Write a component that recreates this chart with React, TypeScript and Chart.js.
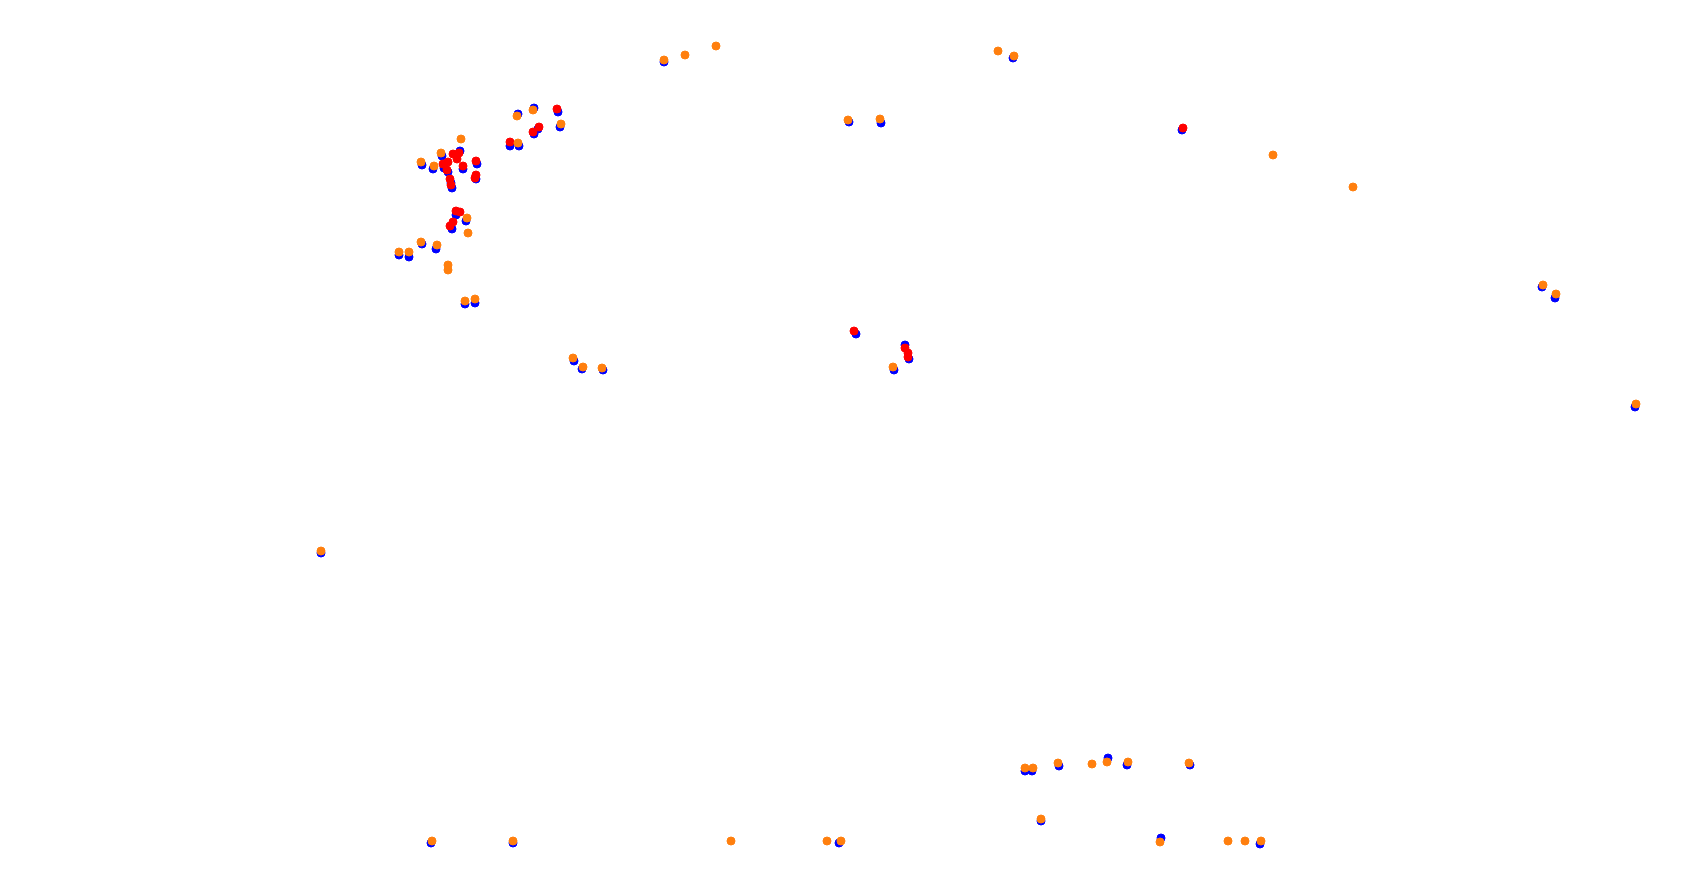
import React, { useEffect, useRef } from "react";
import { Chart, registerables } from "chart.js";

Chart.register(...registerables);

type P = { x: number; y: number };

const blueX = [534, 518, 558, 560, 534, 538, 510, 519, 422, 433, 442, 460, 444, 448, 463, 477, 476, 451, 452, 456, 466, 452, 422, 436, 399, 409, 465, 475, 664, 849, 881, 1013, 1182, 574, 582, 603, 321, 856, 905, 909, 894, 1542, 1555, 1635, 1025, 1032, 1059, 1108, 1127, 1190, 1041, 1161, 431, 513, 839, 1260];
const blueY = [108, 114, 112, 127, 134, 129, 146, 146, 165, 169, 156, 151, 168, 172, 169, 164, 179, 183, 188, 215, 221, 229, 244, 249, 255, 257, 304, 303, 62, 122, 123, 58, 130, 361, 369, 370, 553, 334, 345, 359, 370, 287, 298, 407, 771, 771, 766, 758, 765, 765, 821, 838, 843, 843, 843, 844];

const redX = [557, 539, 533, 510, 453, 459, 457, 448, 443, 447, 463, 476, 476, 475, 450, 451, 456, 460, 453, 450, 854, 905, 908, 908, 1183];
const redY = [109, 127, 132, 142, 154, 153, 159, 162, 164, 170, 166, 161, 175, 178, 179, 185, 211, 212, 222, 226, 331, 348, 353, 357, 128];

const orangeX = [716, 685, 664, 998, 1014, 848, 880, 533, 517, 561, 518, 461, 441, 421, 434, 467, 468, 421, 437, 399, 409, 448, 448, 465, 475, 573, 583, 602, 321, 893, 1273, 1353, 1543, 1556, 1636, 1025, 1033, 1058, 1092, 1107, 1128, 1189, 1041, 1160, 432, 513, 731, 827, 841, 1228, 1245, 1261];
const orangeY = [46, 55, 60, 51, 56, 120, 119, 110, 116, 124, 143, 139, 153, 162, 166, 218, 233, 242, 245, 252, 252, 265, 270, 301, 299, 358, 367, 368, 551, 367, 155, 187, 285, 294, 404, 768, 768, 763, 764, 762, 762, 763, 819, 842, 841, 841, 841, 841, 841, 841, 841, 841];

const X_RANGE = [0, 1694];
const Y_RANGE = [0, 880];

function zip(xs: number[], ys: number[]): P[] {
  return xs.map((x, i) => ({ x, y: ys[i] }));
}

export default function App() {
  const ref = useRef<HTMLCanvasElement | null>(null);
  useEffect(() => {
    if (!ref.current) return;
    const mk = (label: string, xs: number[], ys: number[], color: string, order: number) => ({
      label,
      data: zip(xs, ys),
      backgroundColor: color,
      borderColor: color,
      pointRadius: 4,
      borderWidth: 1,
      order,
    });
    const chart = new Chart(ref.current, {
      type: "scatter",
      data: {
        datasets: [
          mk("orange", orangeX, orangeY, "#ff7f0e", 0),
          mk("red", redX, redY, "#ff0000", 1),
          mk("blue", blueX, blueY, "#0000ff", 2),
        ],
      },
      options: {
        animation: false,
        responsive: false,
        layout: { padding: 0, autoPadding: false },
        plugins: { legend: { display: false }, tooltip: { enabled: false } },
        scales: {
          x: { type: "linear", min: X_RANGE[0], max: X_RANGE[1], display: false },
          y: { type: "linear", min: Y_RANGE[0], max: Y_RANGE[1], reverse: true, display: false },
        },
      },
    });
    return () => chart.destroy();
  }, []);
  return (
    <div style={{ position: "fixed", left: 0, top: 0, width: 1694, height: 880, background: "#fff" }}>
      <canvas ref={ref} width={1694} height={880} style={{ display: "block" }} />
    </div>
  );
}
